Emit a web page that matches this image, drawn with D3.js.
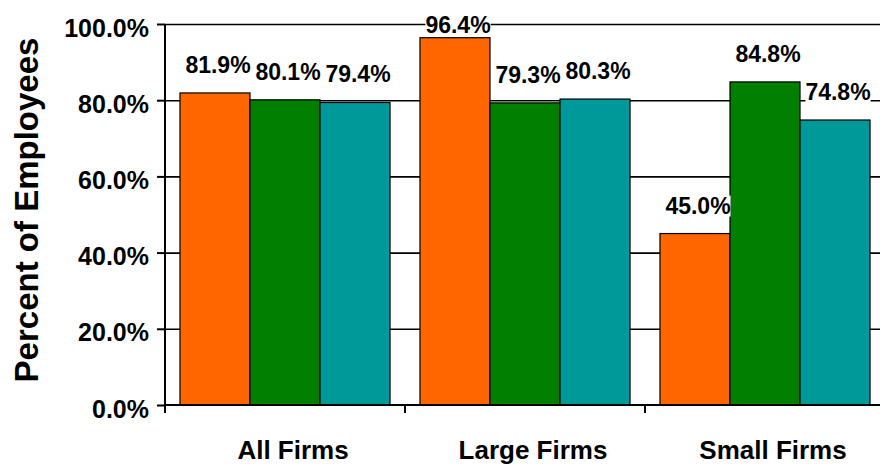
<!DOCTYPE html>
<html lang="en">
<head>
    <meta charset="UTF-8">
    <title>Percent of Employees</title>
    <script src="https://cdn.jsdelivr.net/npm/d3@7"></script>
    <style>
        body { margin: 0; background: #fff; }
        text { font-family: "Liberation Sans", Arial, sans-serif; font-weight: bold; fill: #000; }
    </style>
</head>
<body>
    <svg width="880" height="465"></svg>
    <script>
        // data
        var categories = ['All Firms', 'Large Firms', 'Small Firms']
        var series = ['Series 1', 'Series 2', 'Series 3']
        var values = [
            [81.9, 80.1, 79.4],
            [96.4, 79.3, 80.3],
            [45.0, 84.8, 74.8]
        ]
        var yTicks = [0, 20, 40, 60, 80, 100]
        var colors = ['#FF6600', '#007F00', '#009999']

        var svg = d3.select('svg')
        var plotL = 165, plotR = 885, plotT = 24, plotB = 405

        var x0 = d3.scaleBand().domain(categories).range([plotL, plotR]).padding(0)
        var x1 = d3.scaleBand().domain(series).range([0, x0.bandwidth()])
            .paddingInner(0).paddingOuter(0.214)
        var y = d3.scaleLinear().domain([0, 100]).range([plotB, plotT])

        // gridlines
        var grid = svg.append('g').attr('transform', 'translate(' + plotL + ',0)')
            .call(d3.axisLeft(y).tickValues(yTicks.slice(1)).tickSize(-(880 - plotL)).tickFormat(''))
        grid.select('.domain').remove()
        grid.selectAll('line').attr('stroke', '#000').attr('stroke-width', 1.6)

        // bars
        var gs = svg.selectAll('.grp').data(values).enter().append('g')
            .attr('class', 'grp')
            .attr('transform', function (d, i) { return 'translate(' + x0(categories[i]) + ',0)' })

        gs.selectAll('rect').data(function (d) { return d }).enter().append('rect')
            .attr('x', function (d, j) { return x1(series[j]) })
            .attr('y', function (d) { return y(d) })
            .attr('width', x1.bandwidth())
            .attr('height', function (d) { return plotB - y(d) })
            .attr('fill', function (d, j) { return colors[j] })
            .attr('stroke', '#000')
            .attr('stroke-width', 1.2)

        // value labels with white background
        var labels = gs.selectAll('.lbl').data(function (d) { return d }).enter().append('g').attr('class', 'lbl')
        labels.append('text')
            .attr('x', function (d, j) { return x1(series[j]) + x1.bandwidth() / 2 + 3 })
            .attr('y', function (d) { return Math.max(y(d) - 20, 33) })
            .attr('text-anchor', 'middle')
            .style('font-size', '23px')
            .text(function (d) { return d.toFixed(1) + '%' })
        labels.each(function () {
            var g = d3.select(this)
            var b = g.select('text').node().getBBox()
            g.insert('rect', 'text')
                .attr('x', b.x).attr('y', b.y + 3).attr('width', b.width).attr('height', b.height - 5)
                .attr('fill', '#fff')
        })

        // y axis
        var ay = svg.append('g').attr('transform', 'translate(' + plotL + ',0)')
            .call(d3.axisLeft(y).tickValues(yTicks).tickSize(8).tickPadding(8)
                .tickFormat(function (d) { return d.toFixed(1) + '%' }))
        ay.select('.domain').attr('d', 'M0,' + plotT + 'V' + plotB).attr('stroke', '#000').attr('stroke-width', 2)
        ay.selectAll('line').attr('stroke', '#000').attr('stroke-width', 2)
        ay.selectAll('text').style('font-size', '25px').attr('dy', '0.48em')
            .style('font-family', '"Liberation Sans", Arial, sans-serif')

        // x axis
        var ax = svg.append('g').attr('transform', 'translate(0,' + plotB + ')')
        ax.append('line').attr('x1', plotL).attr('x2', 880).attr('y1', 0).attr('y2', 0)
            .attr('stroke', '#000').attr('stroke-width', 2)
        ax.selectAll('.tk').data(categories.concat(['end'])).enter().append('line')
            .attr('x1', function (d, i) { return i < categories.length ? x0(d) : x0.range()[1] })
            .attr('x2', function (d, i) { return i < categories.length ? x0(d) : x0.range()[1] })
            .attr('y1', 0).attr('y2', 8)
            .attr('stroke', '#000').attr('stroke-width', 2)
        ax.selectAll('.cat').data(categories).enter().append('text')
            .attr('x', function (d) { return x0(d) + x0.bandwidth() / 2 + 8 })
            .attr('y', 54)
            .attr('text-anchor', 'middle')
            .style('font-size', '26px')
            .text(function (d) { return d })

        // y title
        svg.append('text')
            .attr('transform', 'translate(38,210) rotate(-90)')
            .attr('text-anchor', 'middle')
            .style('font-size', '33px')
            .text('Percent of Employees')
    </script>
</body>
</html>
